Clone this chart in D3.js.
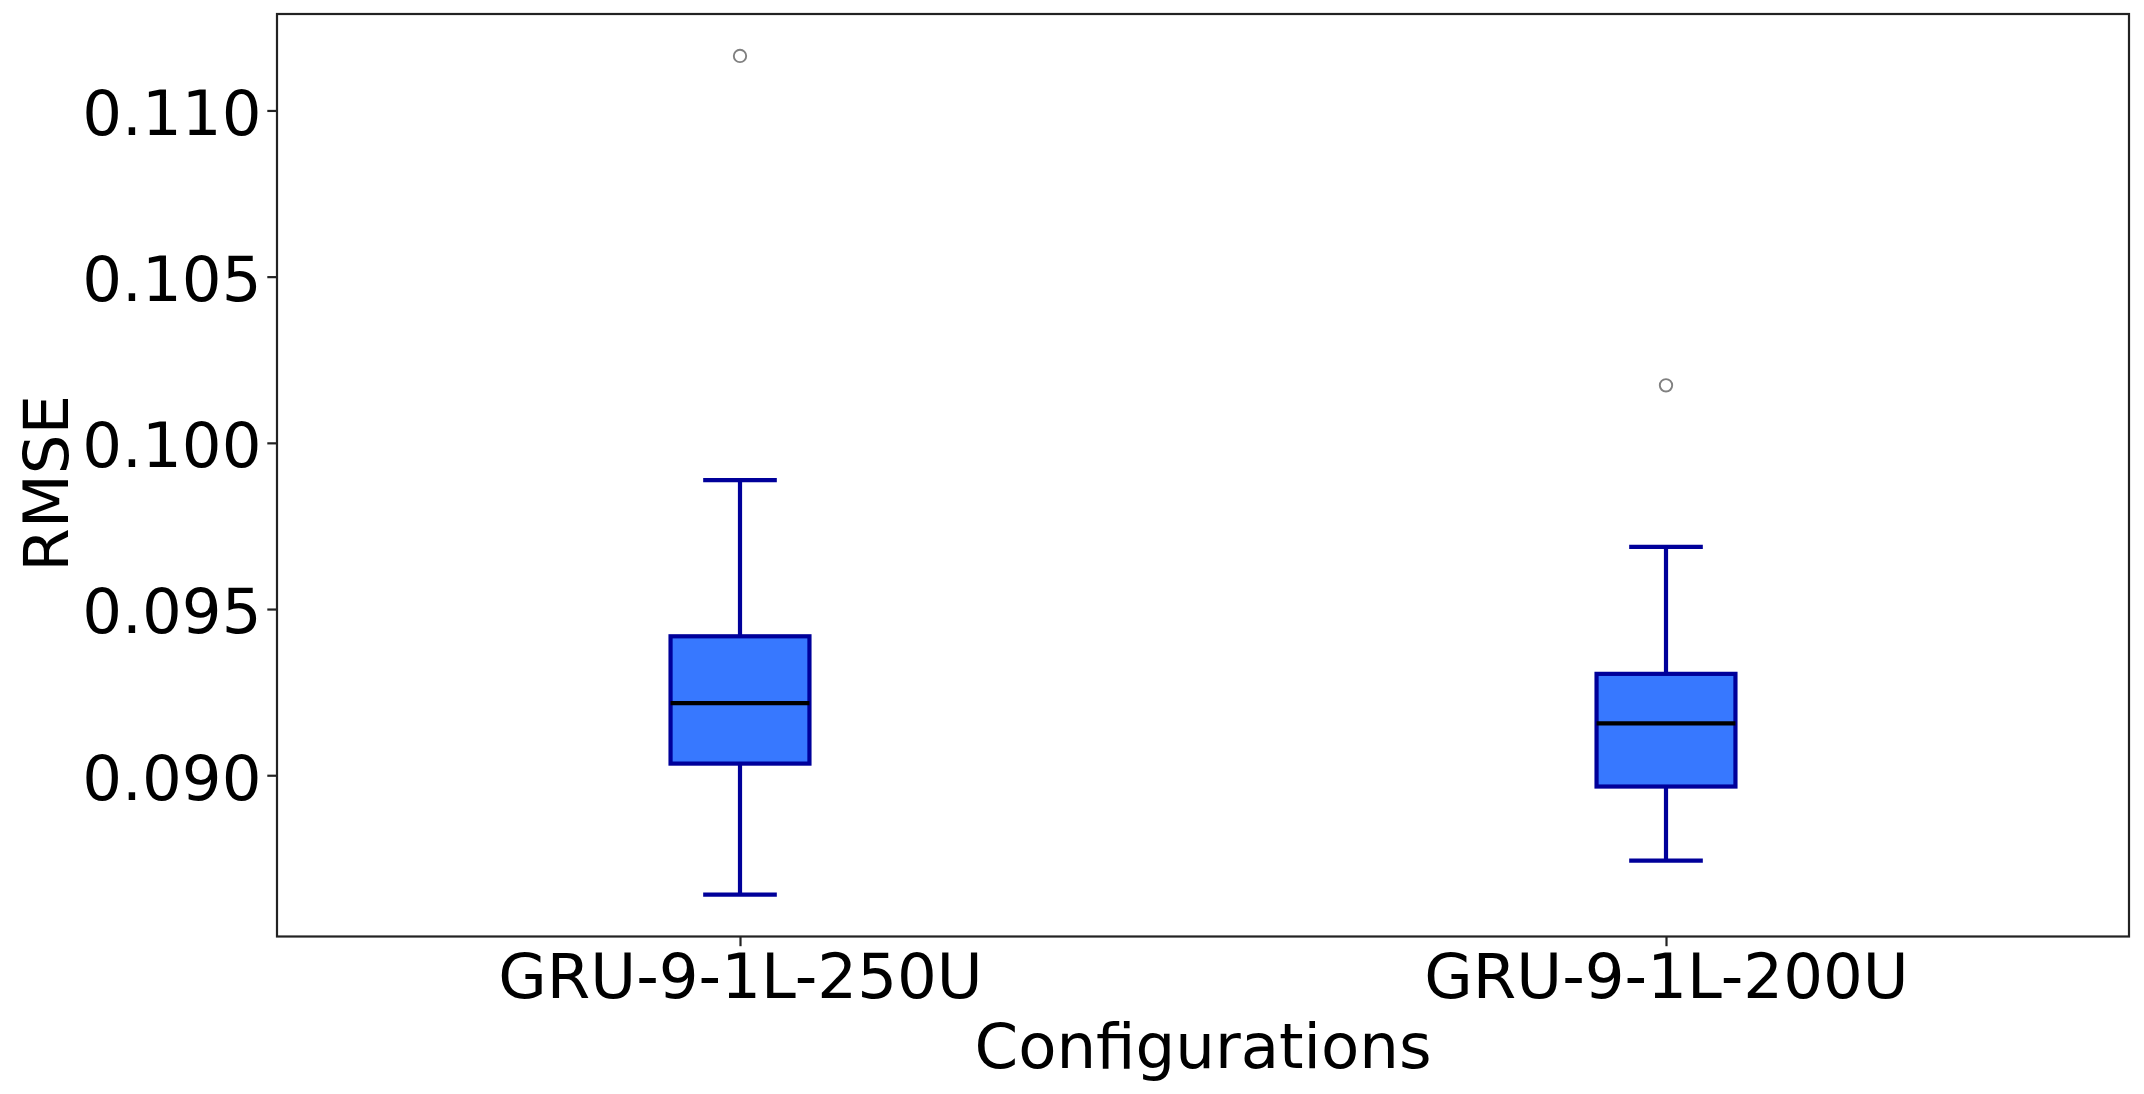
<!DOCTYPE html>
<html>
<head>
<meta charset="utf-8">
<script src="https://cdn.jsdelivr.net/npm/d3@7"></script>
<style>
  html, body { margin: 0; padding: 0; background: #ffffff; }
  svg { display: block; }
  text { font-family: "DejaVu Sans", sans-serif; fill: #000; }
</style>
</head>
<body>
<svg id="chart" width="2144" height="1094"></svg>
<script>
// ---- data ----
const categories = ["GRU-9-1L-250U", "GRU-9-1L-200U"];
const whiskerLow  = [0.08641, 0.08743];
const q1          = [0.09035, 0.08966];
const median      = [0.09217, 0.09156];
const q3          = [0.09418, 0.09305];
const whiskerHigh = [0.09888, 0.09687];
const outliers    = [[0.11164], [0.10173]];
const yTicks      = [0.090, 0.095, 0.100, 0.105, 0.110];
const yLabel = "RMSE";
const xLabel = "Configurations";

// ---- layout ----
const W = 2144, H = 1094;
const plot = { left: 277, right: 2129, top: 14, bottom: 936.5 };
const boxWidth = 0.15;
const fs = 62.6;

const svg = d3.select("#chart");
svg.append("rect").attr("width", W).attr("height", H).attr("fill", "#fff");

const positions = categories.map((c, i) => i + 1);
const x = d3.scaleLinear().domain([0.5, categories.length + 0.5]).range([plot.left, plot.right]);

const allVals = whiskerLow.concat(whiskerHigh, outliers.flat());
const dmin = d3.min(allVals), dmax = d3.max(allVals);
const pad = (dmax - dmin) * 0.05;
const y = d3.scaleLinear().domain([dmin - pad, dmax + pad]).range([plot.bottom, plot.top]);

const boxColor = "#3778ff", edgeColor = "#00009a", lw = 4.2;

const g = svg.append("g");
categories.forEach((c, i) => {
  const p = positions[i];
  const xl = x(p - boxWidth / 2), xr = x(p + boxWidth / 2), xc = x(p);
  const capL = x(p - boxWidth / 4), capR = x(p + boxWidth / 4);
  // whiskers
  g.append("line").attr("x1", xc).attr("x2", xc).attr("y1", y(q1[i])).attr("y2", y(whiskerLow[i]))
    .attr("stroke", edgeColor).attr("stroke-width", lw);
  g.append("line").attr("x1", xc).attr("x2", xc).attr("y1", y(q3[i])).attr("y2", y(whiskerHigh[i]))
    .attr("stroke", edgeColor).attr("stroke-width", lw);
  // caps
  [whiskerLow[i], whiskerHigh[i]].forEach(v => {
    g.append("line").attr("x1", capL).attr("x2", capR).attr("y1", y(v)).attr("y2", y(v))
      .attr("stroke", edgeColor).attr("stroke-width", lw).attr("stroke-linecap", "square");
  });
  // box
  g.append("rect").attr("x", xl).attr("y", y(q3[i])).attr("width", xr - xl).attr("height", y(q1[i]) - y(q3[i]))
    .attr("fill", boxColor).attr("stroke", edgeColor).attr("stroke-width", lw);
  // median
  g.append("line").attr("x1", xl).attr("x2", xr).attr("y1", y(median[i])).attr("y2", y(median[i]))
    .attr("stroke", "#000").attr("stroke-width", lw);
  // outliers
  outliers[i].forEach(v => {
    g.append("circle").attr("cx", xc).attr("cy", y(v)).attr("r", 6.2)
      .attr("fill", "none").attr("stroke", "#808080").attr("stroke-width", 1.9);
  });
});

// ---- axes ----
const yAxis = d3.axisLeft(y).tickValues(yTicks).tickFormat(d3.format(".3f")).tickSize(9.7).tickPadding(9.7);
const ya = svg.append("g").attr("transform", `translate(${plot.left},0)`).call(yAxis);
ya.select(".domain").remove();
ya.selectAll(".tick line").attr("stroke", "#222").attr("stroke-width", 2.2);
ya.selectAll(".tick text").attr("font-size", fs).attr("font-family", "DejaVu Sans")
  .attr("fill", "#000").attr("dy", "0.38em").attr("x", -15.5);

const xAxis = d3.axisBottom(x).tickValues(positions).tickFormat((d, i) => categories[i]).tickSize(9.7).tickPadding(9.7);
const xa = svg.append("g").attr("transform", `translate(0,${plot.bottom})`).call(xAxis);
xa.select(".domain").remove();
xa.selectAll(".tick line").attr("stroke", "#222").attr("stroke-width", 2.2);
xa.selectAll(".tick text").attr("font-size", fs).attr("font-family", "DejaVu Sans")
  .attr("fill", "#000").attr("y", 0).attr("dy", 0)
  .attr("transform", "translate(0,61.5)");

// frame
svg.append("rect").attr("x", plot.left).attr("y", plot.top)
  .attr("width", plot.right - plot.left).attr("height", plot.bottom - plot.top)
  .attr("fill", "none").attr("stroke", "#222").attr("stroke-width", 2.2);

// labels
svg.append("text").attr("transform", `translate(68,${(plot.top + plot.bottom) / 2 + 8}) rotate(-90)`)
  .attr("text-anchor", "middle").attr("font-size", fs).text(yLabel);
svg.append("text").attr("x", (plot.left + plot.right) / 2).attr("y", 1068)
  .attr("text-anchor", "middle").attr("font-size", fs).text(xLabel);
</script>
</body>
</html>
